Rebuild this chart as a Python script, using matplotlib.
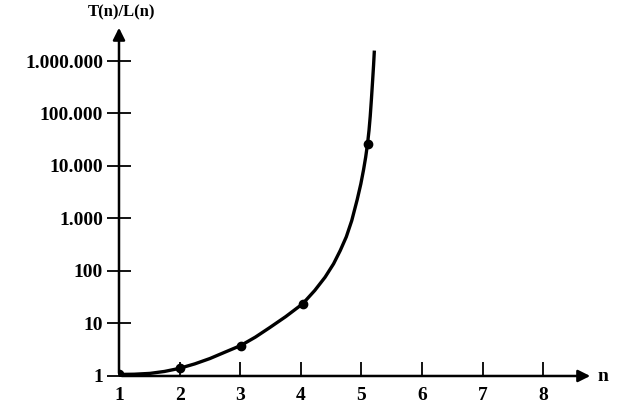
import matplotlib.pyplot as plt

# measured points (dots)
n_pts = [1.0, 2.0, 3.02, 4.04, 5.1]
ratio_pts = [1.1, 1.39, 3.8, 24, 26300]

# curve
n_curve = [1.0, 1.25, 1.51, 1.75, 1.99, 2.25, 2.5, 2.75, 3.01, 3.25, 3.49, 3.75, 4.03,
           4.23, 4.4, 4.54, 4.65, 4.75, 4.84, 4.93, 4.99, 5.035, 5.07, 5.1, 5.125,
           5.145, 5.165, 5.185, 5.2, 5.213]
ratio_curve = [1.07, 1.08, 1.12, 1.22, 1.39, 1.7, 2.15, 2.85, 3.81, 5.5, 8.4, 13.5, 23.7,
               42.6, 76.2, 137, 245, 447, 912, 2290, 4570, 8510, 14800, 26300, 47900,
               89100, 190500, 436500, 831800, 1.58e6]

y_ticks = [1, 10, 100, 1000, 10000, 100000, 1000000]
y_labels = ["1", "10", "100", "1.000", "10.000", "100.000", "1.000.000"]
x_ticks = [1, 2, 3, 4, 5, 6, 7, 8]

plt.rcParams["font.family"] = "Liberation Serif"
plt.rcParams["font.weight"] = "bold"

fig = plt.figure(figsize=(6.24, 4.11), dpi=100)
ax = fig.add_axes([0.1907, 0.0852, 0.7596, 0.854])

ax.plot(n_curve, ratio_curve, color="black", linewidth=2.4, solid_capstyle="butt",
        solid_joinstyle="round")
ax.plot(n_pts, ratio_pts, "o", color="black", markersize=6)

ax.set_yscale("log")
ax.set_xlim(1, 8.82)
ax.set_ylim(1, 10 ** 6.686)
ax.set_yticks(y_ticks)
ax.set_yticklabels(y_labels)
ax.minorticks_off()
ax.set_xticks(x_ticks)
ax.set_xticklabels([str(x) for x in x_ticks])

for s in ax.spines.values():
    s.set_visible(False)

ax.tick_params(axis="y", direction="inout", length=17, width=1.3, pad=3, labelsize=14)
ax.tick_params(axis="x", direction="in", length=10, width=1.3, pad=8, labelsize=14)

# axes with arrow heads
ax.annotate("", xy=(0, 1.0), xytext=(0, 0), xycoords="axes fraction",
            arrowprops=dict(arrowstyle="-|>", color="black", lw=1.8, mutation_scale=18))
ax.annotate("", xy=(1.0, 0), xytext=(0, 0), xycoords="axes fraction",
            arrowprops=dict(arrowstyle="-|>", color="black", lw=1.8, mutation_scale=18))

fig.text(122 / 624, 1 - 12 / 411, "T(n)/L(n)", ha="center", va="center", fontsize=12, fontweight="bold")
fig.text(598 / 624, 1 - 376 / 411, "n", ha="left", va="center", fontsize=14, fontweight="bold")

fig.savefig("out.png", dpi=100)
